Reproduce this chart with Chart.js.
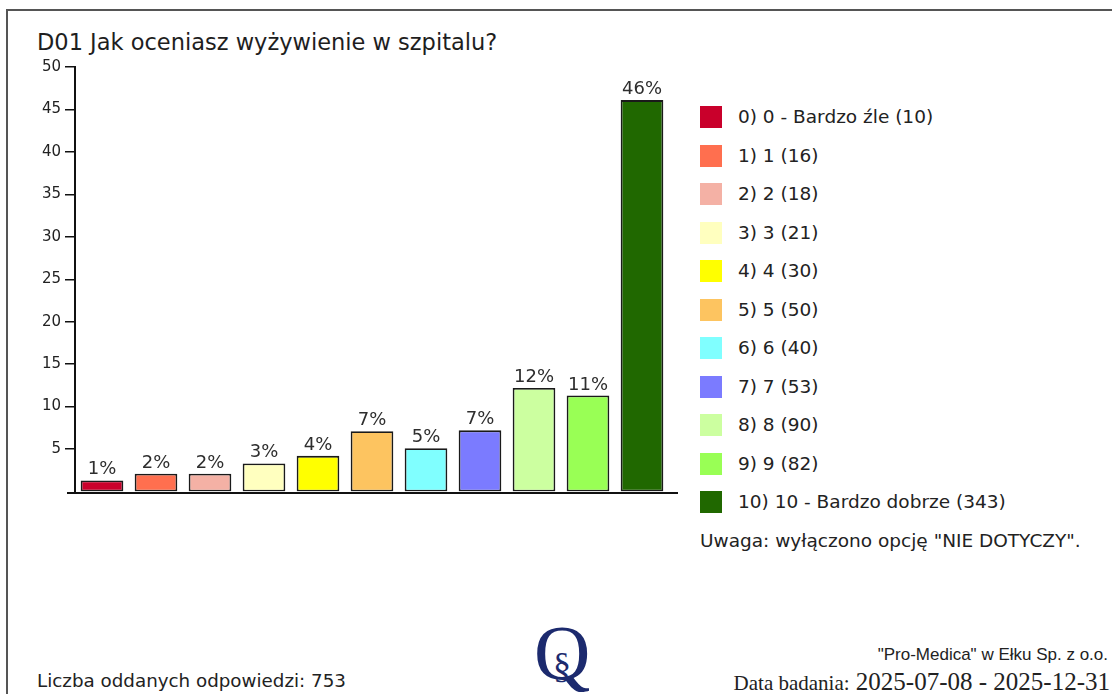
<!DOCTYPE html>
<html>
<head>
<meta charset="utf-8">
<script src="https://cdn.jsdelivr.net/npm/chart.js@4"></script>
<style>
    body { margin: 0; width: 1112px; height: 694px; background: #fff; overflow: hidden; position: relative; font-family: "DejaVu Sans", sans-serif; color: #222; }
    #frame { position: absolute; left: 6px; top: 9px; right: -4px; bottom: -4px; border-left: 2px solid #555; border-top: 2px solid #555; }
    #title { position: absolute; left: 37px; top: 31px; font-size: 22.5px; line-height: 22.5px; color: #1e1e1e; }
    #chartBox { position: absolute; left: 0; top: 0; width: 700px; height: 520px; }
    #legend { position: absolute; left: 700px; top: 106px; font-size: 18.5px; }
    .row { height: 38.5px; display: flex; align-items: flex-start; }
    .box { width: 22px; height: 22px; margin-right: 16px; flex: none; }
    .row span { line-height: 22px; white-space: nowrap; }
    #note { position: absolute; left: 700px; top: 532px; font-size: 18.5px; line-height: 18.5px; white-space: nowrap; }
    #count { position: absolute; left: 37px; top: 672px; font-size: 18.3px; line-height: 18px; }
    #logo { position: absolute; left: 534px; top: 614px; font-family: "Liberation Serif", serif; font-size: 78px; color: #1c2a6e; line-height: 78px; }
    #logo i { position: absolute; left: 19px; top: 12px; font-style: normal; font-size: 36px; }
    #firm { position: absolute; right: 4px; top: 646px; font-family: "Liberation Sans", sans-serif; font-size: 17px; line-height: 17px; white-space: nowrap; }
    #dates { position: absolute; right: 2px; top: 669px; font-family: "Liberation Serif", serif; font-size: 25px; line-height: 25px; white-space: nowrap; }
    #dates small { font-size: 21px; }
</style>
</head>
<body>
<div id="frame"></div>
<div id="title">D01 Jak oceniasz wyżywienie w szpitalu?</div>
<div id="chartBox"><canvas id="barChart"></canvas></div>
<div id="legend"></div>
<div id="note">Uwaga: wyłączono opcję "NIE DOTYCZY".</div>
<div id="count">Liczba oddanych odpowiedzi: 753</div>
<div id="logo">Q<i>§</i></div>
<div id="firm">"Pro-Medica" w Ełku Sp. z o.o.</div>
<div id="dates"><small>Data badania:</small> 2025-07-08 - 2025-12-31</div>

<script>
// Chart data (bar heights, in %)
const categories = ['0) 0 - Bardzo źle', '1) 1', '2) 2', '3) 3', '4) 4', '5) 5', '6) 6', '7) 7', '8) 8', '9) 9', '10) 10 - Bardzo dobrze'];
const answerCounts = [10, 16, 18, 21, 30, 50, 40, 53, 90, 82, 343];
const percentValues = [1.3, 2.1, 2.1, 3.3, 4.2, 7.1, 5.1, 7.2, 12.2, 11.3, 46.1];
const percentLabels = ['1%', '2%', '2%', '3%', '4%', '7%', '5%', '7%', '12%', '11%', '46%'];
const barColors = ['#c9002b', '#ff6f4f', '#f4b1a5', '#ffffbf', '#ffff00', '#fdc460', '#80ffff', '#7b7bff', '#ccffa0', '#99ff55', '#206800'];
const yTicks = [5, 10, 15, 20, 25, 30, 35, 40, 45, 50];

// Legend
const legendEl = document.getElementById('legend');
categories.forEach((cat, i) => {
    const row = document.createElement('div');
    row.className = 'row';
    row.innerHTML = '<div class="box" style="background:' + barColors[i] + '"></div><span>' + cat + ' (' + answerCounts[i] + ')</span>';
    legendEl.appendChild(row);
});

// Percent labels + baseline
const barLabels = {
    id: 'barLabels',
    afterDatasetsDraw(chart) {
        const ctx = chart.ctx;
        const meta = chart.getDatasetMeta(0);
        ctx.save();
        ctx.fillStyle = '#2e2e2e';
        ctx.font = '18px "DejaVu Sans", sans-serif';
        ctx.textAlign = 'center';
        ctx.textBaseline = 'alphabetic';
        meta.data.forEach((bar, i) => {
            ctx.fillText(percentLabels[i], bar.x, bar.y - 6);
        });
        const area = chart.chartArea;
        ctx.strokeStyle = '#111';
        ctx.lineWidth = 2;
        ctx.beginPath();
        ctx.moveTo(area.left - 8, area.bottom + 1.5);
        ctx.lineTo(area.right + 9, area.bottom + 1.5);
        ctx.stroke();
        ctx.restore();
    }
};

const ctx = document.getElementById('barChart').getContext('2d');
new Chart(ctx, {
    type: 'bar',
    data: {
        labels: categories,
        datasets: [{
            data: percentValues,
            backgroundColor: barColors,
            borderColor: '#1a1a1a',
            borderWidth: 1.8,
            borderSkipped: false,
            barPercentage: 0.79,
            categoryPercentage: 1
        }]
    },
    options: {
        responsive: true,
        maintainAspectRatio: false,
        animation: false,
        layout: { padding: { top: 67, bottom: 28.5, right: 31, left: 0 } },
        plugins: {
            legend: { display: false },
            tooltip: { enabled: false }
        },
        scales: {
            x: {
                display: false
            },
            y: {
                min: 0,
                max: 50,
                afterBuildTicks: scale => { scale.ticks = yTicks.map(v => ({ value: v })); },
                afterFit: scale => { scale.width = 75; },
                border: { display: true, color: '#111', width: 2 },
                grid: { drawOnChartArea: false, tickLength: 10, color: '#111', lineWidth: 1.5 },
                ticks: {
                    color: '#222',
                    padding: 4,
                    font: { size: 15, family: '"DejaVu Sans", sans-serif' }
                }
            }
        }
    },
    plugins: [barLabels]
});
</script>
</body>
</html>
